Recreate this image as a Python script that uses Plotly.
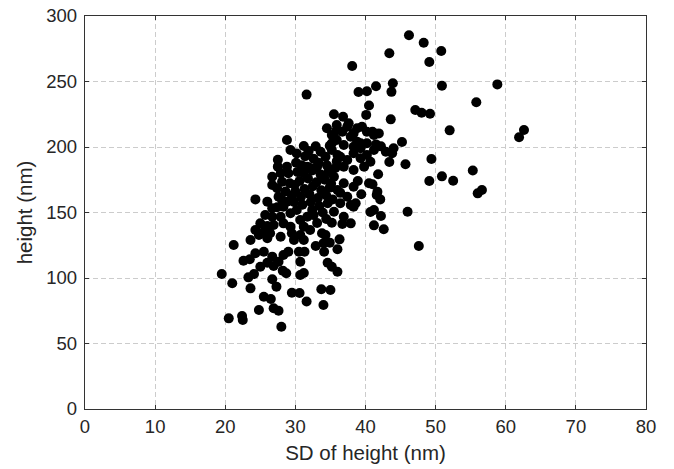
import plotly.graph_objects as go

# SD of height (nm) and height (nm)
sd_height = [
    46.2, 48.3, 50.8, 49.1, 50.9, 58.8, 55.8, 47.1, 48.0, 49.2, 52.0, 62.6, 61.9, 45.2, 49.4, 45.7, 55.3,
    49.1, 50.9, 52.5, 56.0, 56.6, 47.6, 46.0, 43.4, 38.1, 31.6,
    41.5, 43.9, 43.7, 39.0, 40.2, 40.5, 40.1, 43.6, 44.0, 43.8, 43.4, 41.5, 41.8, 41.0, 38.9, 39.4,
    41.6, 42.1, 37.9, 38.6, 40.7, 42.2, 41.2, 42.6, 37.9, 36.7, 35.2, 36.4, 36.4,
    33.8, 36.3, 36.0, 34.9, 32.9, 34.1, 31.2, 31.3, 34.6, 35.2, 36.0, 31.2, 33.7, 35.0, 30.6, 31.6, 34.0,
    21.2, 19.5, 21.0, 20.5, 22.4, 22.5, 24.8, 28.0, 23.6, 23.3, 24.1, 25.5, 26.5, 26.7, 27.3, 26.9, 27.6,
    29.5, 28.2, 28.7, 30.7, 22.6, 23.5, 25.0, 26.0, 26.9, 24.3, 25.5, 26.7, 27.6, 28.3, 29.0, 23.6, 24.8,
    26.0, 24.3, 26.4, 27.9, 29.8, 30.7, 29.5, 30.5, 30.7, 34.0, 34.3,
    24.3, 26.0, 28.8, 29.3, 31.2, 32.9, 27.5, 27.5, 30.1, 29.0, 26.7, 26.7, 27.4, 28.1, 29.2, 27.6, 28.1,
    28.8, 26.7, 27.4, 28.3, 25.7, 26.7, 27.9, 29.3, 25.0, 26.0, 26.9, 28.3, 29.3, 25.5, 30.2, 30.7, 31.7,
    31.2, 32.1, 33.6, 34.3, 35.2, 34.5, 35.2, 35.9, 36.7, 37.4, 38.3, 39.5, 40.2, 41.2, 41.9, 35.9, 36.9,
    37.9, 38.8, 39.3, 40.2, 41.2, 42.2, 42.9, 36.4, 37.4, 38.3, 39.3, 40.2, 36.9, 38.3, 39.8, 40.7, 35.5,
    36.9, 38.3, 36.0, 37.4, 38.3, 35.5, 36.9, 40.5, 41.7, 41.2,
    35.5, 36.8, 37.6, 35.9, 38.8, 41.0, 35.5, 35.2, 38.3, 39.3, 31.7, 33.1, 36.0,
    31.0, 32.2, 33.4, 34.6, 30.8, 32.0, 33.2, 34.4, 35.3, 31.3, 32.5, 33.7, 34.9, 30.6, 31.8, 33.0, 34.2,
    35.1, 31.2, 32.4, 33.6, 34.7, 30.9, 32.1, 33.3, 34.5, 32.6, 31.4, 33.9, 32.6, 34.4, 33.1, 32.4, 30.0,
    29.8, 29.9, 35.7, 35.9, 34.9, 30.2, 31.9, 30.3, 28.8, 28.6, 29.5, 27.9,
]
height = [
    285.3, 279.6, 273.3, 264.9, 246.8, 247.8, 234.1, 228.2, 226.2, 225.4, 212.7, 213.0, 207.4, 203.8, 190.8, 186.8, 182.0,
    174.0, 177.6, 174.3, 164.6, 167.2, 124.4, 150.6, 271.5, 261.8, 240.0,
    246.4, 248.6, 242.1, 242.0, 242.5, 231.7, 224.5, 221.1, 199.0, 195.2, 188.5, 202.0, 179.2, 171.5, 174.0, 163.9,
    163.4, 160.0, 155.7, 157.0, 150.4, 147.3, 140.2, 137.2, 141.7, 141.2, 142.2, 165.0, 157.0,
    134.1, 129.5, 121.9, 127.0, 124.4, 120.1, 129.0, 120.0, 111.7, 108.6, 104.8, 103.8, 91.4, 90.8, 88.6, 82.0, 79.4,
    125.2, 103.0, 96.0, 69.2, 71.0, 67.9, 75.6, 62.8, 92.1, 100.5, 103.0, 85.7, 84.0, 99.0, 93.4, 76.9, 75.0,
    88.8, 105.6, 103.6, 102.3, 113.2, 114.3, 108.6, 111.7, 109.2, 118.9, 120.1, 116.3, 112.4, 117.6, 120.1, 129.0, 132.8,
    130.3, 136.6, 134.1, 131.5, 129.0, 132.8, 134.1, 120.1, 112.4, 126.5, 132.8,
    160.0, 158.3, 205.4, 197.7, 200.8, 200.5, 190.3, 185.0, 188.0, 179.9, 177.3, 171.0, 168.5, 173.5, 172.3, 162.0, 159.5,
    158.3, 153.2, 154.0, 154.4, 148.1, 146.8, 146.8, 149.4, 141.7, 139.7, 140.5, 141.7, 139.2, 135.3, 151.9, 144.3, 146.8,
    139.2, 136.6, 196.4, 192.6, 197.7, 214.3, 209.2, 216.8, 211.7, 215.5, 210.4, 215.5, 211.7, 209.2, 210.4, 205.3, 201.5,
    207.9, 204.1, 199.0, 202.8, 197.7, 200.5, 196.4, 192.6, 190.1, 195.2, 191.4, 193.9, 185.0, 182.4, 185.0, 188.8, 177.3,
    172.3, 169.7, 167.2, 162.0, 154.4, 150.6, 146.8, 172.3, 165.9, 151.9,
    225.0, 223.1, 218.1, 213.0, 214.3, 211.7, 207.9, 202.8, 200.2, 202.8, 185.0, 185.0, 193.9,
    156.0, 158.0, 155.0, 157.0, 162.0, 164.0, 161.0, 163.0, 160.0, 168.0, 170.0, 167.0, 169.0, 174.0, 176.0, 173.0, 175.0,
    172.0, 180.0, 182.0, 179.0, 181.0, 186.0, 184.0, 188.0, 186.0, 191.0, 193.0, 150.0, 148.0, 145.0, 142.0, 152.0, 166.0,
    158.0, 171.0, 184.0, 189.0, 201.0, 195.0, 197.0, 181.0, 185.0, 166.0, 163.0, 180.0,
]

x_ticks = [0, 10, 20, 30, 40, 50, 60, 70, 80]
y_ticks = [0, 50, 100, 150, 200, 250, 300]

fig = go.Figure(
    go.Scatter(
        x=sd_height,
        y=height,
        mode="markers",
        marker=dict(color="black", size=10, line=dict(width=0)),
        showlegend=False,
    )
)

font_family = "Liberation Sans, Arial, sans-serif"
axis_common = dict(
    showline=True,
    linecolor="#333333",
    linewidth=1.3,
    mirror="ticks",
    ticks="inside",
    ticklen=4,
    tickcolor="#333333",
    showgrid=True,
    gridcolor="#cccccc",
    griddash="5px,3px",
    gridwidth=1,
    zeroline=False,
    automargin=False,
    tickfont=dict(family=font_family, size=18.5, color="#262626"),
)

fig.update_layout(
    width=674,
    height=469,
    margin=dict(l=85, r=28, t=16, b=60),
    paper_bgcolor="white",
    plot_bgcolor="white",
    xaxis=dict(
        range=[0, 80],
        tickvals=x_ticks,
        ticklabelstandoff=1,
        title=dict(text="SD of height (nm)", font=dict(family=font_family, size=20.5, color="#262626"), standoff=9),
        **axis_common,
    ),
    yaxis=dict(
        range=[0, 300],
        tickvals=y_ticks,
        ticklabelstandoff=3,
        title=dict(text="height (nm)", font=dict(family=font_family, size=20.5, color="#262626"), standoff=8),
        **axis_common,
    ),
)

fig.write_html("out.html")
